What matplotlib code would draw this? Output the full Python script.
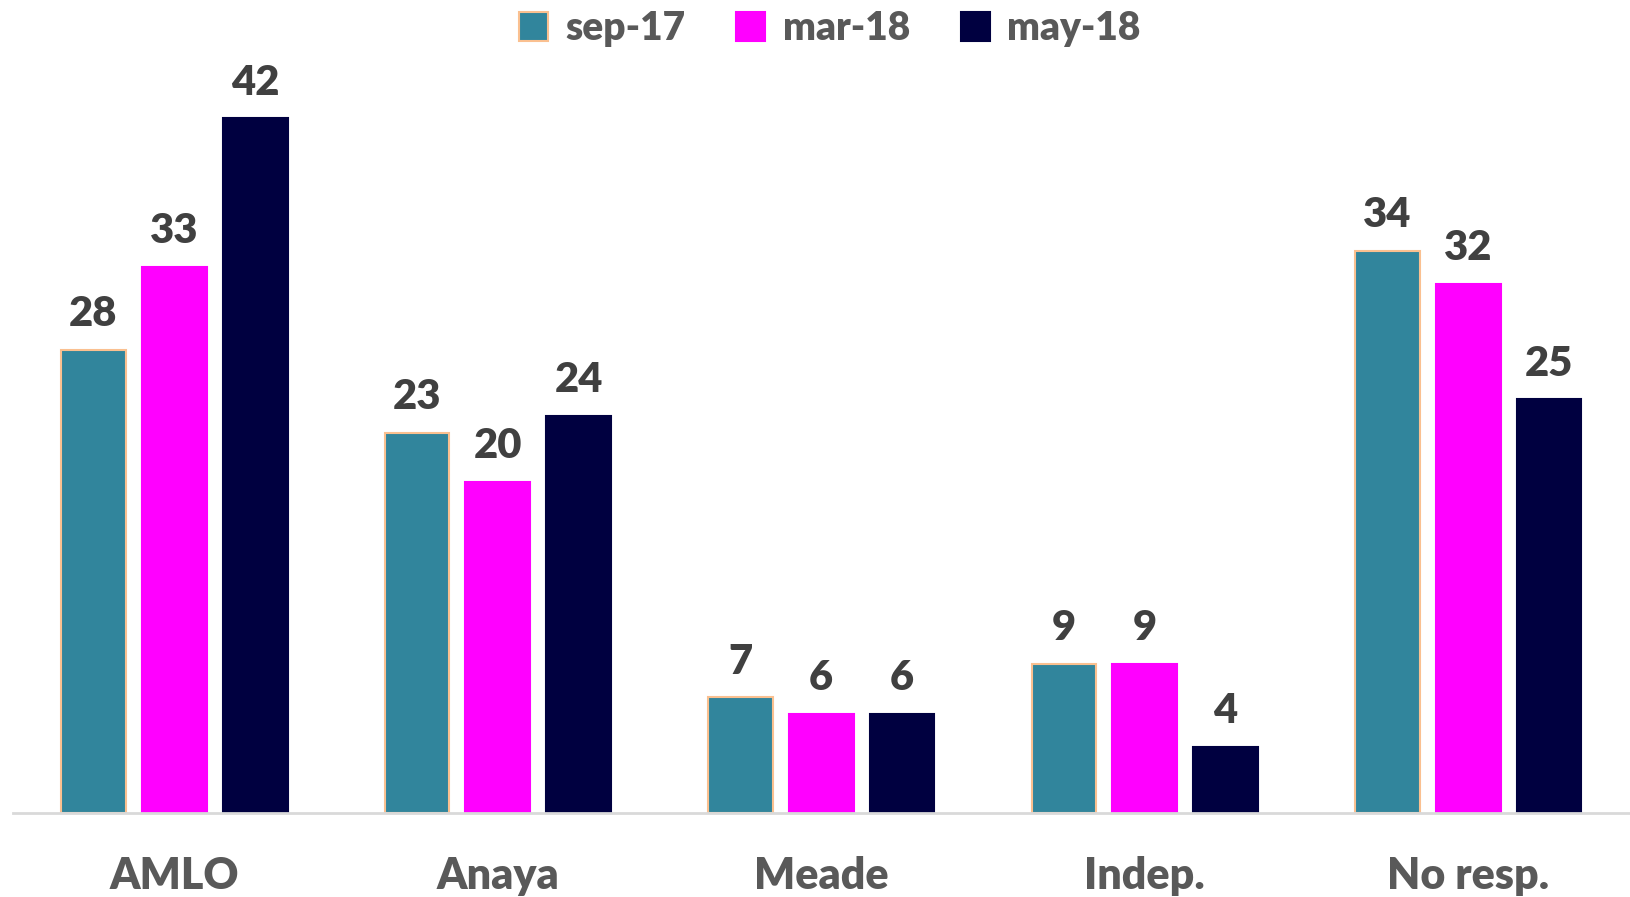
import numpy as np
import matplotlib.pyplot as plt
from matplotlib.patches import Patch

plt.rcParams['font.family'] = ['Lato', 'DejaVu Sans']

categories = ['AMLO', 'Anaya', 'Meade', 'Indep.', 'No resp.']
series = ['sep-17', 'mar-18', 'may-18']
sep17 = [28, 23, 7, 9, 34]
mar18 = [33, 20, 6, 9, 32]
may18 = [42, 24, 6, 4, 25]

colors = ['#31859C', '#FF00FF', '#000040']
edges = ['#FAC090', '#FF00FF', '#000040']

fig = plt.figure(figsize=(16.3, 8.97), dpi=100)
ax = fig.add_axes([0.0077, 0.0937, 0.9923, 0.839])

x = np.arange(len(categories))
width = 0.2
offsets = [-0.25, 0, 0.25]
for vals, off, c, e in zip([sep17, mar18, may18], offsets, colors, edges):
    bars = ax.bar(x + off, vals, width, color=c, edgecolor=e, linewidth=1.5, zorder=2)
    for b, v in zip(bars, vals):
        ax.annotate(str(v), (b.get_x() + b.get_width() / 2, v),
                    xytext=(0, 12), textcoords='offset points',
                    ha='center', va='bottom', fontsize=30,
                    fontweight='heavy', color='#404040')

ax.set_xlim(-0.5, 4.5)
ax.set_ylim(0, 45.5)
ax.set_xticks(x)
ax.set_xticklabels(categories, fontsize=31, fontweight='heavy', color='#595959')
ax.tick_params(axis='x', length=0, pad=31)
ax.set_yticks([])
for s in ['top', 'right', 'left']:
    ax.spines[s].set_visible(False)
ax.spines['bottom'].set_color('#D9D9D9')
ax.spines['bottom'].set_linewidth(2)

handles = [Patch(facecolor=c, edgecolor=e, linewidth=1.5) for c, e in zip(colors, edges)]
fig.legend(handles, series, loc='center', bbox_to_anchor=(0.509, 0.968), ncol=3,
           frameon=False, handlelength=0.75, handleheight=0.75, handletextpad=0.45,
           columnspacing=1.3, prop={'size': 28, 'weight': 'heavy'}, labelcolor='#595959')

fig.savefig('out.png', dpi=100)
